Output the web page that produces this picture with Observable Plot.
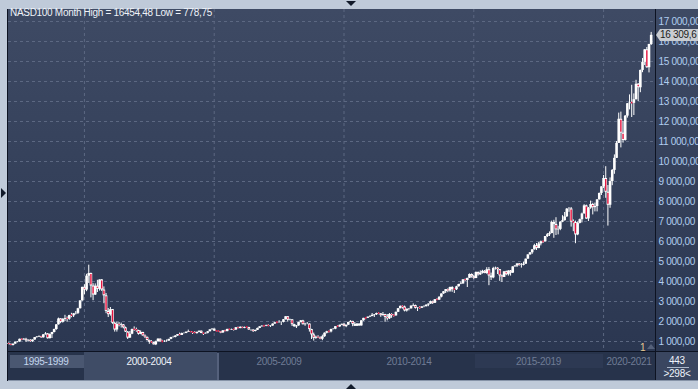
<!DOCTYPE html>
<html><head><meta charset="utf-8">
<script src="https://cdn.jsdelivr.net/npm/d3@7"></script>
<script src="https://cdn.jsdelivr.net/npm/@observablehq/plot@0.6"></script>
<style>
body{margin:0;background:#bfcad9;font-family:"Liberation Sans",Arial,sans-serif;}
#wrap{position:relative;width:698px;height:389px;overflow:hidden;background:#bfcad9;}
.abs{position:absolute;}
#wrap svg{position:absolute;left:0;top:0;}
#wrap svg text{letter-spacing:-0.3px;}
</style></head><body><div id="wrap"></div>
<script>
// First bar = Feb 1997 (month index relative to Jan 2000 = -35); last bar = Nov 2021
const firstIndex = -35;
const firstOpen = 905;
const close = [
852,798,870,960,975,1110,1080,1110,1030,1060,991,
1072,1195,1220,1250,1185,1337,1377,1140,1345,1450,1600,1836,
2128,1960,2106,2150,2115,2297,2283,2383,2407,2640,3030,3708,
3570,4267,4397,3773,3324,3763,3610,4077,3570,3282,2506,2342,
2593,1908,1574,1855,1800,1830,1683,1470,1169,1364,1597,1577,
1550,1359,1452,1277,1208,1051,962,943,832,990,1116,984,
983,1010,1018,1106,1200,1201,1270,1340,1303,1400,1403,1468,
1494,1450,1438,1399,1456,1517,1400,1380,1412,1486,1583,1621,
1519,1502,1483,1425,1535,1493,1605,1580,1601,1570,1687,1645,
1707,1660,1703,1701,1575,1575,1502,1556,1654,1735,1763,1757,
1792,1759,1772,1870,1936,1934,1951,1954,2091,2238,2062,2085,
1841,1732,1781,1949,2031,1837,1872,1873,1594,1329,1160,1212,
1176,1115,1237,1416,1486,1477,1604,1617,1742,1728,1812,1860,
1742,1813,1955,2005,1858,1760,1871,1778,2037,2157,2156,2218,
2250,2310,2339,2400,2383,2294,2346,2206,2137,2351,2291,2278,
2460,2640,2755,2725,2525,2615,2632,2772,2799,2659,2677,2661,
2731,2739,2819,2870,2988,2910,3090,3066,3218,3378,3489,3592,
3522,3701,3596,3587,3737,3850,3875,4083,4050,4158,4350,4236,
4150,4450,4334,4415,4509,4397,4589,4275,4181,4648,4665,4593,
4279,4202,4484,4341,4524,4417,4730,4771,4875,4801,4810,4864,
5117,5330,5436,5584,5788,5647,5880,5988,5980,6248,6337,6396,
6950,6855,6581,6606,6967,7040,7234,7620,7627,6967,6950,6330,
6906,7090,7378,7781,7127,7671,7848,7692,7750,8083,8404,8733,
9151,8462,7813,9000,9555,10157,10905,12111,11418,11052,12268,12888,
12925,12909,13091,13861,13687,14554,14959,15583,14690,15850,16309.6
];
const high = [
925,880,875,975,1000,1120,1130,1150,1160,1085,1090,
1080,1200,1250,1285,1260,1340,1445,1400,1380,1455,1620,1840,
2170,2140,2145,2310,2230,2310,2410,2400,2500,2660,3040,3710,
3840,4360,4816,4420,3890,3880,4060,4080,4100,3730,3400,2650,
2700,2600,1970,1960,1950,1920,1850,1720,1500,1500,1620,1730,
1670,1560,1530,1460,1330,1220,1070,1040,960,1020,1140,1130,
1060,1040,1080,1110,1210,1260,1300,1350,1420,1420,1430,1470,
1570,1500,1460,1490,1470,1520,1525,1410,1430,1500,1590,1630,
1625,1550,1520,1490,1545,1560,1610,1610,1620,1610,1700,1720,
1740,1720,1720,1740,1710,1590,1580,1570,1670,1740,1790,1780,
1820,1840,1790,1880,1960,1970,2040,1980,2100,2240,2240,2120,
2090,1860,1800,1960,2050,2060,1910,1950,1880,1610,1420,1270,
1290,1230,1320,1430,1510,1520,1610,1640,1750,1790,1820,1870,
1900,1820,1960,2040,2010,1950,1900,1890,2040,2160,2200,2220,
2290,2400,2350,2420,2440,2390,2450,2360,2350,2400,2390,2340,
2470,2645,2780,2790,2770,2620,2650,2780,2880,2820,2690,2740,
2740,2790,2830,2880,3020,3020,3100,3140,3230,3380,3490,3600,
3630,3720,3740,3620,3760,3860,3980,4090,4120,4160,4380,4380,
4300,4480,4480,4530,4560,4550,4690,4700,4420,4710,4720,4690,
4600,4330,4500,4520,4540,4550,4740,4800,4900,4900,4900,4970,
5120,5340,5450,5590,5860,5900,5950,6020,6020,6250,6400,6480,
7020,7060,7190,6760,6990,7290,7450,7650,7700,7700,7080,7020,
6980,7120,7420,7840,7820,7700,8020,7910,7920,8090,8420,8740,
9300,9740,8800,9180,9600,10330,11000,12420,12470,12000,12300,12900,
13330,13810,13380,14060,13900,14570,15150,15600,15700,15860,16454.48
];
const low = [
840,790,778.75,860,930,965,1040,1060,950,990,960,
960,1065,1165,1200,1160,1170,1320,1120,1130,1150,1430,1560,
1820,1890,1920,2000,1960,2060,2190,2200,2330,2350,2620,3010,
3330,3490,3900,3180,3040,3300,3450,3520,3500,2890,2390,2200,
2270,1860,1470,1470,1730,1670,1630,1450,1100,1150,1340,1510,
1460,1320,1340,1270,1150,1020,860,900,830,795,970,970,
965,950,960,1010,1090,1170,1180,1260,1290,1300,1370,1390,
1450,1440,1350,1390,1360,1440,1390,1300,1370,1380,1480,1570,
1500,1480,1460,1390,1410,1490,1490,1560,1560,1520,1560,1640,
1640,1640,1640,1690,1560,1510,1450,1480,1550,1640,1720,1720,
1740,1740,1700,1760,1860,1900,1930,1800,1930,2070,1970,2030,
1750,1720,1650,1760,1930,1830,1760,1840,1470,1100,1020,1110,
1150,1090,1040,1210,1380,1420,1430,1580,1590,1710,1710,1790,
1740,1690,1810,1950,1740,1750,1750,1760,1770,2010,2090,2150,
2200,2240,2200,2300,2340,2210,2270,1960,2030,2100,2160,2220,
2270,2450,2630,2620,2480,2470,2530,2620,2740,2620,2500,2600,
2650,2690,2730,2740,2860,2850,2900,3060,3060,3180,3360,3400,
3440,3460,3460,3400,3550,3720,3840,3870,4000,3700,4150,4170,
4090,4140,4270,4300,4370,4390,4360,3790,4050,4140,4570,4350,
4010,3950,4200,4290,4270,4270,4400,4720,4700,4770,4670,4780,
4860,5110,5310,5360,5570,5550,5640,5780,5900,5970,6200,6250,
6390,6160,6300,6330,6540,6940,7020,7200,7460,6720,6490,5890,
6290,6880,6930,7370,7100,7000,7610,7330,7480,7480,8070,8300,
8640,8160,6770,7660,8790,9360,10150,10900,10680,10920,11020,12170,
12580,12200,12300,13070,13000,13440,14440,14800,14660,14430,15800
];
const yTicks = [1000,2000,3000,4000,5000,6000,7000,8000,9000,10000,11000,12000,13000,14000,15000,16000,17000];
const gridMonths = [0,60,120,180,240]; // Jan 2000, 2005, 2010, 2015, 2020
const navLabels = ["1995-1999","2000-2004","2005-2009","2010-2014","2015-2019","2020-2021"];
const titleText = "NASD100 Month High = 16454,48 Low = 778,75";
const barCount = "443", visibleCount = ">298<";

const rows = close.map((c, k) => ({
  i: firstIndex + k,
  open: k === 0 ? firstOpen : close[k - 1],
  close: c, high: high[k], low: low[k]
}));
const down = rows.filter(d => d.close < d.open);
const fmt = v => d3.format(",.2f")(v).replace(/,/g, " ").replace(".", ",");

const wrap = document.getElementById("wrap");
function box(l, t, w, h, css) {
  const d = document.createElement("div");
  d.className = "abs";
  d.style.cssText = `left:${l}px;top:${t}px;width:${w}px;height:${h}px;` + (css || "");
  wrap.appendChild(d); return d;
}
const txt = "font-size:10px;letter-spacing:-0.3px;white-space:nowrap;line-height:12px;";
// backgrounds
box(8, 9, 690, 342, "background:linear-gradient(#3e4a64,#2b3751);");
box(7, 9, 1, 372, "background:#0d1322;");
box(655, 9, 1, 372, "background:#0d1322;");
box(8, 351, 690, 1, "background:#0d1322;");
box(8, 352, 647, 28, "background:#27334b;");
box(656, 352, 42, 28, "background:#3a4660;");
box(8, 380, 690, 1, "background:#8794a8;");

const plot = Plot.plot({
  width: 698, height: 389,
  marginLeft: 8, marginRight: 43, marginTop: 9, marginBottom: 38,
  x: {domain: [-35.1, 264], axis: null},
  y: {domain: [500, 17600], axis: "right", ticks: yTicks, tickFormat: fmt, tickSize: 0, tickPadding: 3, label: null},
  style: {background: "transparent", color: "#b0cdf0", fontSize: "10px", fontFamily: "Liberation Sans, Arial, sans-serif", overflow: "hidden"},
  marks: [
    Plot.ruleY(yTicks, {stroke: "#5c6882", strokeDasharray: "3,3"}),
    Plot.ruleX(gridMonths, {stroke: "#5c6882", strokeDasharray: "3,3"}),
    Plot.ruleX(rows, {x: "i", y1: "low", y2: "high", stroke: "#ffffff", strokeWidth: 1}),
    Plot.ruleX(rows, {x: "i", y1: "open", y2: "close", stroke: "#ffffff", strokeWidth: 2.6}),
    Plot.ruleX(down, {x: "i", y1: "open", y2: "close", stroke: "#e3103c", strokeWidth: 1.4, insetTop: 1, insetBottom: 1})
  ]
});
wrap.appendChild(plot);

// overlays
const t = box(10, 7, 260, 12, txt + "color:#eef2f8;");
t.textContent = titleText;

const ly = plot.scale("y").apply(close[close.length - 1]);
box(656, ly - 6, 0, 0, "border-top:6px solid transparent;border-bottom:6px solid transparent;border-right:4px solid #c9ccd1;");
const m = box(660, ly - 6, 38, 12, txt + "background:#c9ccd1;color:#1c1c1c;");
m.textContent = fmt(close[close.length - 1]).slice(0, -1);

const one = box(640, 342, 8, 12, txt + "color:#e6c890;");
one.textContent = "1";
box(647, 344, 0, 0, "border-left:4px solid transparent;border-right:4px solid transparent;border-bottom:5px solid #55617a;");

// nav bar segments
const xs = [8, 84, 214, 344, 474, 603, 655];
box(10, 355, 74, 13, "background:#4a5771;");
box(84, 352, 133, 28, "background:#3f4c66;");
box(217, 353, 2, 27, "background:#55617c;");
box(475, 354, 128, 14, "background:#2d3953;");
navLabels.forEach((s, k) => {
  const col = k === 0 ? "#c4d6ee" : k === 1 ? "#eef3fa" : "#6f7c95";
  const d = box(xs[k], 356, xs[k + 1] - xs[k], 12, txt + `color:${col};text-align:center;`);
  d.textContent = s;
});
const b1 = box(656, 355, 42, 12, txt + "color:#eef3fa;text-align:center;");
b1.textContent = barCount;
box(667, 367, 22, 1, "background:#aab6c8;");
const b2 = box(656, 368, 42, 12, txt + "color:#eef3fa;text-align:center;");
b2.textContent = visibleCount;

// frame arrows
box(346, 1, 0, 0, "border-left:5px solid transparent;border-right:5px solid transparent;border-top:5px solid #111a2a;");
box(346, 384, 0, 0, "border-left:5px solid transparent;border-right:5px solid transparent;border-bottom:5px solid #111a2a;");
box(1, 188, 0, 0, "border-top:5px solid transparent;border-bottom:5px solid transparent;border-left:5px solid #111a2a;");
</script></body></html>
